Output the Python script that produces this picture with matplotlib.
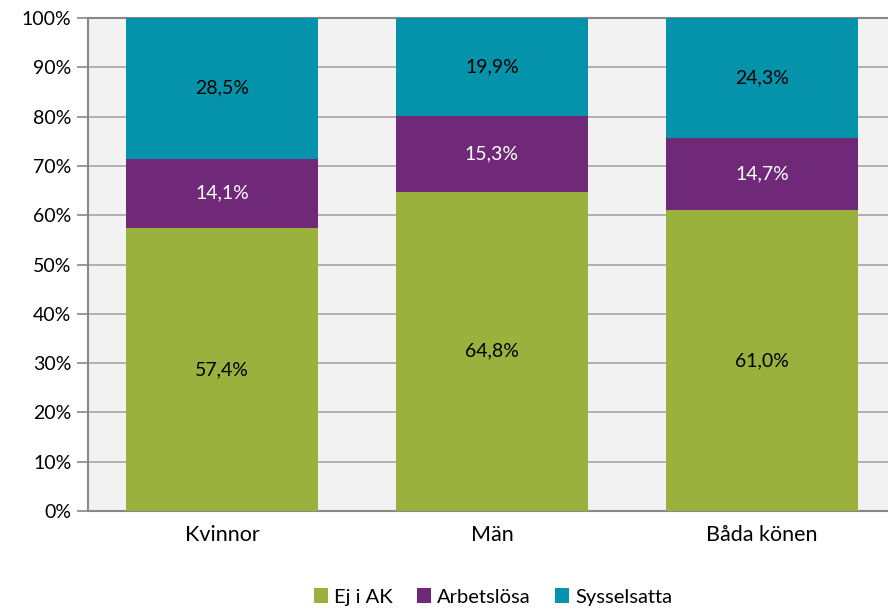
import numpy as np
import matplotlib.pyplot as plt
from matplotlib.patches import Patch

plt.rcParams['font.family'] = ['Lato', 'DejaVu Sans']

# Data
categories = ['Kvinnor', 'Män', 'Båda könen']
series_names = ['Ej i AK', 'Arbetslösa', 'Sysselsatta']
ej_i_ak = [57.4, 64.8, 61.0]
arbetslosa = [14.1, 15.3, 14.7]
sysselsatta = [28.5, 19.9, 24.3]
colors = ['#9BB13E', '#702878', '#0592AB']
text_colors = ['black', 'white', 'black']

fig = plt.figure(figsize=(8.88, 6.10), dpi=100)
ax = fig.add_axes([88 / 888, 99 / 610, 809 / 888, 493 / 610])
ax.set_facecolor('#F2F2F2')

x = np.arange(len(categories))
bottom = np.zeros(len(categories))
for vals, col, tcol in zip([ej_i_ak, arbetslosa, sysselsatta], colors, text_colors):
    vals = np.array(vals)
    ax.bar(x, vals, 0.711, bottom=bottom, color=col, zorder=3)
    for xi, b, v in zip(x, bottom, vals):
        ax.text(xi, b + v / 2, f'{v:.1f}%'.replace('.', ','), ha='center', va='center',
                color=tcol, fontsize=14, zorder=4)
    bottom += vals

ax.set_xlim(-0.496, 2.5)
ax.set_ylim(0, 100)
ax.set_yticks(np.arange(0, 101, 10))
ax.set_yticklabels([f'{v}%' for v in range(0, 101, 10)], fontsize=14)
ax.set_xticks(x)
ax.set_xticklabels(categories, fontsize=15.5)
ax.tick_params(axis='x', length=0, pad=10)
ax.tick_params(axis='y', length=8, color='#888888', width=1.2, pad=4)
ax.yaxis.grid(True, color='#A6A6A6', linewidth=1.2, zorder=1)
ax.set_axisbelow(True)

for s in ['left', 'bottom', 'top']:
    ax.spines[s].set_color('#888888')
    ax.spines[s].set_linewidth(1.5)
ax.spines['right'].set_visible(False)

handles = [Patch(facecolor=c, edgecolor='none') for c in colors]
fig.legend(handles, series_names, loc='center', bbox_to_anchor=(493 / 888, 1 - 597 / 610),
           ncol=3, frameon=False, fontsize=14.5, handlelength=0.7, handleheight=0.7,
           handletextpad=0.3, columnspacing=1.2)

fig.savefig('out.png', dpi=100)
